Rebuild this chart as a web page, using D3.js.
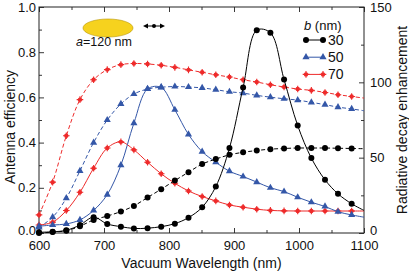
<!DOCTYPE html>
<html>
<head>
<meta charset="utf-8">
<script src="https://cdn.jsdelivr.net/npm/d3@7"></script>
<style>
  body { margin: 0; background: #fff; }
  svg { display: block; font-family: "Liberation Sans", Arial, Helvetica, sans-serif; }
</style>
</head>
<body>
<svg id="chart" width="409" height="274"></svg>
<script>
// sample wavelengths where the markers sit (nm)
const waves = [600, 621, 642, 663, 684, 705, 726, 746, 767, 788, 809, 830, 851, 872, 893, 914, 935, 956, 977, 998, 1019, 1040, 1060, 1081];
const tailWave = 1100;  // lines run on to the axis, no marker there

// antenna efficiency (left axis, dashed)
const eff30 = [0.0, 0.004, 0.01, 0.03, 0.058, 0.075, 0.095, 0.12, 0.157, 0.194, 0.232, 0.269, 0.305, 0.327, 0.346, 0.357, 0.365, 0.371, 0.374, 0.376, 0.376, 0.376, 0.375, 0.374];
const eff50 = [0.025, 0.07, 0.154, 0.275, 0.40, 0.50, 0.571, 0.615, 0.637, 0.645, 0.648, 0.646, 0.642, 0.634, 0.625, 0.619, 0.609, 0.601, 0.594, 0.588, 0.578, 0.568, 0.557, 0.549];
const eff70 = [0.08, 0.225, 0.43, 0.59, 0.678, 0.723, 0.745, 0.75, 0.748, 0.742, 0.733, 0.722, 0.711, 0.70, 0.69, 0.678, 0.668, 0.656, 0.646, 0.637, 0.631, 0.622, 0.612, 0.604];
const effTail = [0.373, 0.541, 0.597];

// radiative decay enhancement (right axis, solid)
const enh30 = [0.5, 0.8, 1.8, 5.3, 10.5, 6.0, 4.2, 3.0, 3.2, 4.2, 6.2, 10.2, 17.1, 30.8, 56.4, 96.6, 134.6, 132.9, 101.9, 71.3, 49.7, 35.3, 26.0, 19.4];
const enh50 = [4.5, 5.3, 6.0, 8.7, 15.0, 25.5, 45.0, 72.9, 95.6, 96.6, 81.8, 65.4, 54.0, 47.0, 41.0, 37.5, 33.8, 30.0, 27.5, 23.7, 20.4, 17.6, 14.1, 12.0];
const enh70 = [5.3, 7.2, 14.9, 27.0, 43.0, 56.4, 60.5, 55.2, 47.0, 39.3, 33.0, 27.9, 24.2, 21.3, 18.6, 17.1, 15.8, 15.0, 14.7, 14.6, 14.6, 14.6, 14.6, 14.6];
const enhTail = [15.0, 10.5, 14.6];

const bValues = ["30", "50", "70"];
const colors = ["#000000", "#3457a8", "#ee2b2b"];
const markerKind = ["circle", "triangle", "star"];

const xTicks = [600, 700, 800, 900, 1000, 1100];
const leftTicks = [0, 0.2, 0.4, 0.6, 0.8, 1.0];
const rightTicks = [0, 50, 100, 150];

const svg = d3.select("#chart");
const plotL = 39, plotR = 364, plotT = 7, plotB = 233;

const x = d3.scaleLinear().domain([600, 1100]).range([plotL, plotR]);
const yL = d3.scaleLinear().domain([0, 1]).range([plotB, plotT]);
const yR = d3.scaleLinear().domain([0, 150]).range([plotB, plotT]);

// axes, ticks pointing inward
function styleAxis(g) {
    g.select(".domain").remove();
    g.selectAll("line").attr("stroke", "#222").attr("stroke-width", 0.9);
    g.selectAll("text").attr("font-size", 13).attr("fill", "#111")
        .attr("font-family", "Liberation Sans, Arial, sans-serif");
}

svg.append("g").attr("transform", `translate(0,${plotB})`)
    .call(d3.axisBottom(x).tickValues(xTicks).tickSize(-5).tickPadding(8).tickFormat(d3.format("d")))
    .call(styleAxis);
svg.append("g").attr("transform", `translate(0,${plotB})`)
    .call(d3.axisBottom(x).tickValues([650, 750, 850, 950, 1050]).tickSize(-3).tickFormat(""))
    .call(styleAxis);
svg.append("g").attr("transform", `translate(0,${plotT})`)
    .call(d3.axisTop(x).tickValues(xTicks).tickSize(-5).tickFormat(""))
    .call(styleAxis);
svg.append("g").attr("transform", `translate(0,${plotT})`)
    .call(d3.axisTop(x).tickValues([650, 750, 850, 950, 1050]).tickSize(-3).tickFormat(""))
    .call(styleAxis);

svg.append("g").attr("transform", `translate(${plotL},0)`)
    .call(d3.axisLeft(yL).tickValues(leftTicks).tickSize(-5).tickPadding(3).tickFormat(d3.format(".1f")))
    .call(styleAxis)
    .call(g => g.selectAll(".tick text").filter(d => d === 0).attr("dy", "0.1em"));
svg.append("g").attr("transform", `translate(${plotL},0)`)
    .call(d3.axisLeft(yL).tickValues([0.1, 0.3, 0.5, 0.7, 0.9]).tickSize(-3).tickFormat(""))
    .call(styleAxis);

svg.append("g").attr("transform", `translate(${plotR},0)`)
    .call(d3.axisRight(yR).tickValues(rightTicks).tickSize(-5).tickPadding(6).tickFormat(d3.format("d")))
    .call(styleAxis)
    .call(g => g.selectAll(".tick text").filter(d => d === 0).attr("dy", "0.1em"));
svg.append("g").attr("transform", `translate(${plotR},0)`)
    .call(d3.axisRight(yR).tickValues([25, 75, 125]).tickSize(-3).tickFormat(""))
    .call(styleAxis);

// frame
svg.append("rect")
    .attr("x", plotL).attr("y", plotT)
    .attr("width", plotR - plotL).attr("height", plotB - plotT)
    .attr("fill", "none").attr("stroke", "#222").attr("stroke-width", 1);

// axis titles
svg.append("text")
    .attr("transform", "translate(15,127) rotate(-90)")
    .attr("text-anchor", "middle").attr("font-size", 14).attr("fill", "#111")
    .text("Antenna efficiency");
svg.append("text")
    .attr("transform", `translate(407,${(plotT + plotB) / 2}) rotate(-90)`)
    .attr("text-anchor", "middle").attr("font-size", 14).attr("fill", "#111")
    .text("Radiative decay enhancement");
svg.append("text")
    .attr("x", (plotL + plotR) / 2).attr("y", 268)
    .attr("text-anchor", "middle").attr("font-size", 14).attr("fill", "#111")
    .text("Vacuum Wavelength (nm)");

function drawMarker(g, kind, color) {
    if (kind === "circle") {
        g.append("circle").attr("r", 3).attr("fill", color);
    } else if (kind === "triangle") {
        g.append("path").attr("d", d3.symbol(d3.symbolTriangle).size(22)()).attr("fill", color);
    } else {
        g.append("circle").attr("r", 2.2).attr("fill", color);
        g.append("path").attr("d", "M-3.3,0H3.3M0,-3.3V3.3")
            .attr("stroke", color).attr("stroke-width", 1.1);
    }
}

function drawSeries(values, tail, yScale, color, kind, dashed) {
    const pts = waves.map((w, i) => [w, values[i]]);
    const linePts = pts.concat([[tailWave, tail]]);
    const line = d3.line()
        .x(d => x(d[0]))
        .y(d => yScale(d[1]))
        .curve(d3.curveCatmullRom);
    svg.append("path")
        .attr("d", line(linePts))
        .attr("fill", "none")
        .attr("stroke", color)
        .attr("stroke-width", 1)
        .attr("stroke-dasharray", dashed ? "4,2.5" : null);
    pts.forEach(p => {
        const g = svg.append("g").attr("transform", `translate(${x(p[0])},${yScale(p[1])})`);
        drawMarker(g, kind, color);
    });
}

const effSeries = [eff30, eff50, eff70];
const enhSeries = [enh30, enh50, enh70];
[2, 1, 0].forEach(i => {
    drawSeries(effSeries[i], effTail[i], yL, colors[i], markerKind[i], true);
    drawSeries(enhSeries[i], enhTail[i], yR, colors[i], markerKind[i], false);
});

// particle sketch and polarisation arrow
svg.append("ellipse")
    .attr("cx", 108).attr("cy", 28).attr("rx", 25).attr("ry", 9)
    .attr("fill", "#f6d21e").attr("stroke", "#b89600").attr("stroke-width", 0.6);
const ann = svg.append("text").attr("x", 104).attr("y", 46)
    .attr("text-anchor", "middle").attr("font-size", 12.5).attr("fill", "#111");
ann.append("tspan").attr("font-style", "italic").text("a");
ann.append("tspan").text("=120 nm");

svg.append("line").attr("x1", 146).attr("x2", 162).attr("y1", 26).attr("y2", 26)
    .attr("stroke", "#000").attr("stroke-width", 1);
svg.append("path").attr("d", "M143,26L148,23.5L148,28.5Z M165,26L160,23.5L160,28.5Z").attr("fill", "#000");
svg.append("circle").attr("cx", 154).attr("cy", 26).attr("r", 2).attr("fill", "#000");

// legend
const leg = svg.append("text").attr("x", 304).attr("y", 30).attr("font-size", 13).attr("fill", "#111");
leg.append("tspan").attr("font-style", "italic").text("b");
leg.append("tspan").text(" (nm)");

bValues.forEach((b, i) => {
    const ly = 40 + i * 17.2;
    svg.append("line").attr("x1", 306).attr("x2", 323).attr("y1", ly).attr("y2", ly)
        .attr("stroke", colors[i]).attr("stroke-width", 1);
    [306, 323].forEach(lx => {
        const g = svg.append("g").attr("transform", `translate(${lx},${ly})`);
        drawMarker(g, markerKind[i], colors[i]);
    });
    svg.append("text").attr("x", 328).attr("y", ly + 5)
        .attr("font-size", 14).attr("fill", "#111").text(b);
});
</script>
</body>
</html>
